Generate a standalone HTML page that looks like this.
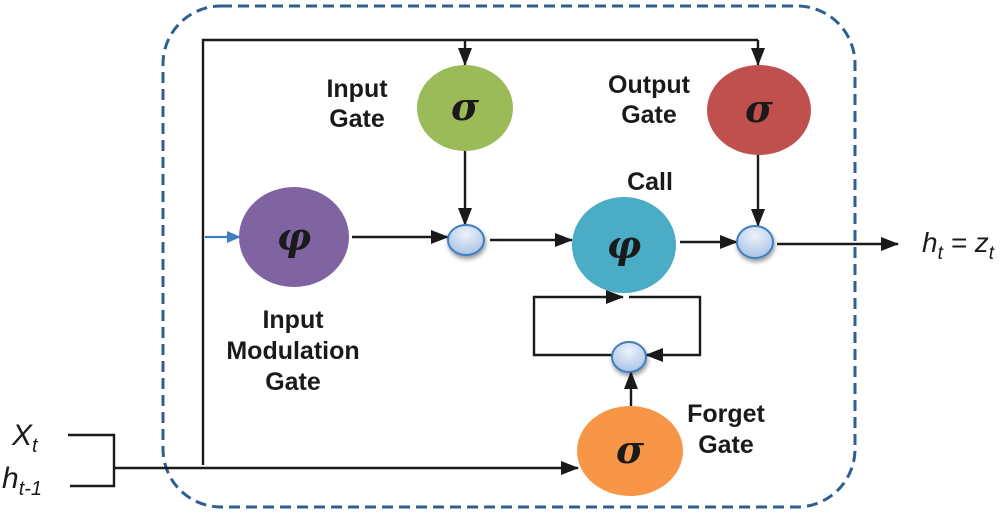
<!DOCTYPE html>
<html><head><meta charset="utf-8"><style>
html,body{margin:0;padding:0;background:#fff;}
svg{display:block;}
.l{font-family:"Liberation Sans",Arial,sans-serif;font-weight:bold;font-size:25px;fill:#1a1a1a;}
.g{font-family:"DejaVu Serif","Liberation Serif",serif;font-weight:bold;font-style:italic;font-size:38px;fill:#1a1a1a;}
.m{font-family:"Liberation Sans",Arial,sans-serif;font-style:italic;fill:#1a1a1a;}
</style></head><body>
<svg width="1003" height="515" viewBox="0 0 1003 515" xmlns="http://www.w3.org/2000/svg">
<defs>
<marker id="a" markerWidth="18" markerHeight="14" refX="17" refY="7" orient="auto" markerUnits="userSpaceOnUse" viewBox="0 0 18 14">
<path d="M0,0 L18,7 L0,14 z" fill="#1a1a1a"/></marker>
<marker id="ab" markerWidth="14" markerHeight="12" refX="13" refY="6" orient="auto" markerUnits="userSpaceOnUse" viewBox="0 0 14 12">
<path d="M0,0 L14,6 L0,12 z" fill="#3d7fc1"/></marker>
<radialGradient id="sc" cx="50%" cy="30%" r="70%"><stop offset="0" stop-color="#eef3fb"/><stop offset="1" stop-color="#a9c2e6"/></radialGradient>
<filter id="sh"><feDropShadow dx="1" dy="3" stdDeviation="2" flood-opacity="0.4"/></filter>
</defs>
<rect x="163" y="6" width="692" height="501" rx="58" ry="58" fill="none" stroke="#2f5f91" stroke-width="3" stroke-dasharray="11,6"/>
<g stroke="#1a1a1a" stroke-width="2.4" fill="none">
<path d="M203,465 V40 H758"/>
<line x1="465" y1="40" x2="465" y2="65" marker-end="url(#a)"/>
<line x1="758" y1="40" x2="758" y2="65" marker-end="url(#a)"/>
<line x1="465" y1="151" x2="465" y2="225" marker-end="url(#a)"/>
<line x1="758" y1="154" x2="758" y2="226" marker-end="url(#a)"/>
<line x1="352" y1="237" x2="448" y2="237" marker-end="url(#a)"/>
<line x1="490" y1="240" x2="572" y2="240" marker-end="url(#a)"/>
<line x1="680" y1="242" x2="737" y2="242" marker-end="url(#a)"/>
<line x1="777" y1="244" x2="898" y2="244" marker-end="url(#a)"/>
<path d="M612,355 H534 V297 H623" marker-end="url(#a)"/>
<path d="M629,297 H700 V355 H646" marker-end="url(#a)"/>
<line x1="631" y1="406" x2="631" y2="372" marker-end="url(#a)"/>
<line x1="115" y1="468" x2="578" y2="468" marker-end="url(#a)"/>
<path d="M68,435 H114 V486 H70"/>
</g>
<line x1="205" y1="237" x2="240" y2="237" stroke="#3d7fc1" stroke-width="2.2" marker-end="url(#ab)"/>
<ellipse cx="465" cy="108" rx="48" ry="43" fill="#9bbb59"/>
<ellipse cx="759" cy="110" rx="52" ry="45" fill="#c0504d"/>
<ellipse cx="294" cy="237" rx="55" ry="50" fill="#8064a2"/>
<ellipse cx="624" cy="245" rx="52" ry="48" fill="#4bacc6"/>
<ellipse cx="630" cy="451" rx="53" ry="45" fill="#f79646"/>
<g fill="url(#sc)" stroke="#3d7fc1" stroke-width="2" filter="url(#sh)">
<ellipse cx="466" cy="240" rx="18" ry="15"/>
<ellipse cx="755" cy="242" rx="18" ry="16"/>
<ellipse cx="629" cy="357" rx="17" ry="15"/>
</g>
<text class="g" x="465" y="120" text-anchor="middle">σ</text>
<text class="g" x="759" y="122" text-anchor="middle">σ</text>
<text class="g" x="630" y="463" text-anchor="middle">σ</text>
<text class="g" x="294" y="250" text-anchor="middle">φ</text>
<text class="g" x="624" y="258" text-anchor="middle">φ</text>
<text class="l" x="357" y="97" text-anchor="middle">Input</text>
<text class="l" x="357" y="127" text-anchor="middle">Gate</text>
<text class="l" x="649" y="93" text-anchor="middle">Output</text>
<text class="l" x="649" y="123" text-anchor="middle">Gate</text>
<text class="l" x="650" y="190" text-anchor="middle">Call</text>
<text class="l" x="293" y="328" text-anchor="middle">Input</text>
<text class="l" x="293" y="359" text-anchor="middle">Modulation</text>
<text class="l" x="293" y="390" text-anchor="middle">Gate</text>
<text class="l" x="726" y="422" text-anchor="middle">Forget</text>
<text class="l" x="726" y="453" text-anchor="middle">Gate</text>
<text class="m" x="12" y="445" font-size="30">X<tspan font-size="20" dy="7">t</tspan></text>
<text class="m" x="2" y="488" font-size="30">h<tspan font-size="20" dy="7">t-1</tspan></text>
<text class="m" x="922" y="252" font-size="28">h<tspan font-size="19" dy="7">t</tspan><tspan dy="-7"> = z</tspan><tspan font-size="19" dy="7">t</tspan></text>
</svg>
</body></html>
